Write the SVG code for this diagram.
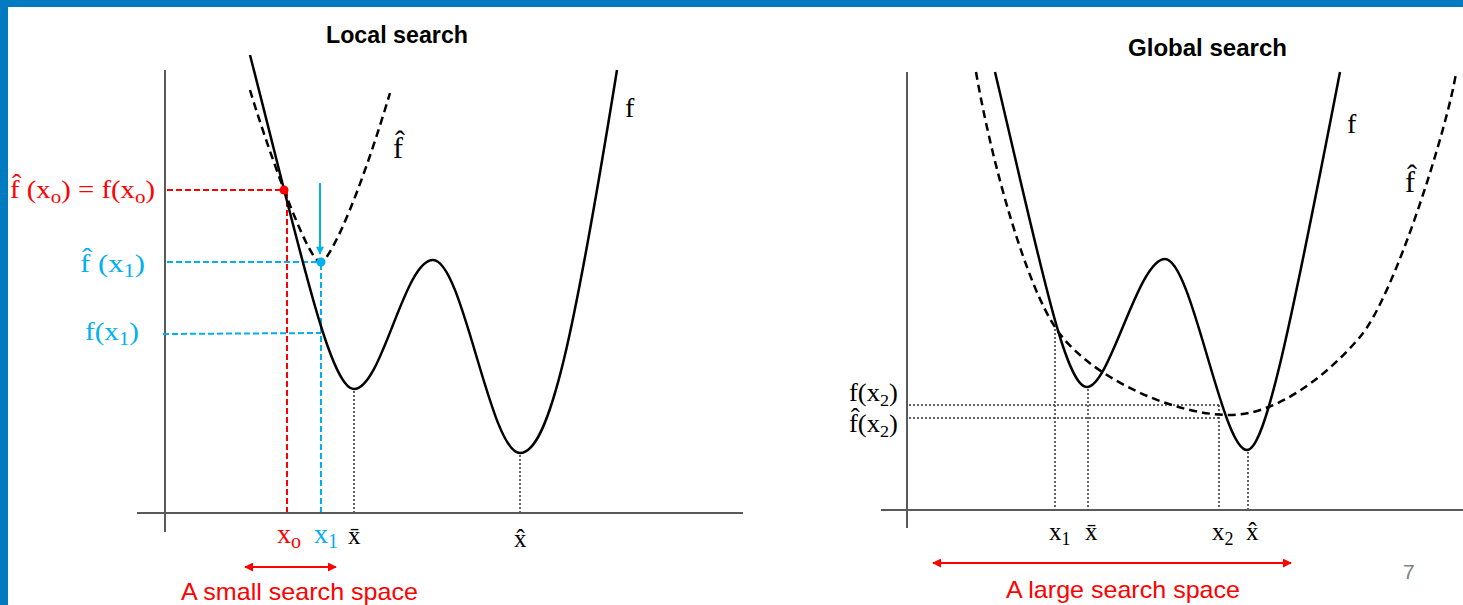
<svg xmlns="http://www.w3.org/2000/svg" width="1463" height="605" viewBox="0 0 1463 605">
<defs>
<style>
.axis{stroke:#5a5a5a;stroke-width:2;fill:none}
.f{stroke:#000;stroke-width:2.5;fill:none}
.fh{stroke:#000;stroke-width:2.5;fill:none;stroke-dasharray:8,5}
.dot{stroke:#333;stroke-width:1.5;fill:none;stroke-dasharray:2,2}
.rdash{stroke:#ff0000;stroke-width:2;fill:none;stroke-dasharray:6,3}
.bdash{stroke:#00b0f0;stroke-width:2;fill:none;stroke-dasharray:6,3}
.math{font-family:"Liberation Serif","DejaVu Serif",serif}
.title{font-family:"Liberation Sans",Arial,sans-serif;font-weight:bold;font-size:23px;fill:#000}
.cap{font-family:"Liberation Sans",Arial,sans-serif;font-size:24px;fill:#ff0000}
.red{fill:#ff0000}
.blue{fill:#00b0f0}
</style>
<marker id="rh" viewBox="0 0 10 10" refX="9" refY="5" markerWidth="4.5" markerHeight="4.5" orient="auto-start-reverse" markerUnits="strokeWidth">
<path d="M0,0 L10,5 L0,10 z" fill="#ff0000"/>
</marker>
<marker id="bh" viewBox="0 0 10 10" refX="9" refY="5" markerWidth="5" markerHeight="4" orient="auto" markerUnits="strokeWidth">
<path d="M0,0 L10,5 L0,10 z" fill="#00b0f0"/>
</marker>
</defs>
<rect x="0" y="0" width="1463" height="605" fill="#fff"/>
<g id="frame">
<rect x="0" y="0" width="1463" height="7" fill="#007ac0"/>
<rect x="0" y="0" width="8" height="605" fill="#007ac0"/>
</g>

<g id="local">
<text class="title" x="326" y="43" textLength="142" lengthAdjust="spacingAndGlyphs">Local search</text>
<g id="local-axes">
<line class="axis" x1="137" y1="513" x2="743" y2="513"/>
<line class="axis" x1="165" y1="70" x2="165" y2="532"/>
</g>
<g id="local-connectors">
<line class="rdash" x1="167" y1="190" x2="284" y2="190"/>
<line class="rdash" x1="287" y1="192" x2="287" y2="512"/>
<line class="bdash" x1="167" y1="262" x2="320" y2="262"/>
<line class="bdash" x1="321" y1="264" x2="321" y2="512"/>
<line class="bdash" x1="163" y1="334" x2="321" y2="333"/>
<line class="dot" x1="354" y1="391" x2="354" y2="512"/>
<line class="dot" x1="520" y1="455" x2="520" y2="512"/>
<line x1="320" y1="183" x2="320" y2="254" stroke="#00b0f0" stroke-width="2" marker-end="url(#bh)"/>
<line x1="245" y1="567" x2="336" y2="567" stroke="#ff0000" stroke-width="2" marker-start="url(#rh)" marker-end="url(#rh)"/>
</g>
<g id="local-f">
<path class="f" d="M250,55 C300,250 330,389 354,389 C382,389 404,260 433,260 C463,260 490,453 520,453 C550,453 575,330 617,70"/>
<text class="math" x="625" y="117" font-size="28">f</text>
</g>
<g id="local-fhat">
<path class="fh" d="M250,90 C265,140 300,240 316,259 Q321,264 326,258 C345,230 370,160 390,93"/>
<text class="math" x="393" y="158" font-size="30">f&#770;</text>
</g>
<circle cx="284" cy="190" r="4.5" fill="#ff0000"/>
<circle cx="321" cy="262" r="4.5" fill="#00b0f0"/>
<g id="local-labels" class="math">
<text class="red" x="155" y="198" font-size="26" text-anchor="end" textLength="145" lengthAdjust="spacingAndGlyphs">f&#770; (x<tspan font-size="19" dy="5">o</tspan><tspan dy="-5">) = f(x</tspan><tspan font-size="19" dy="5">o</tspan><tspan dy="-5">)</tspan></text>
<text class="blue" x="145" y="272" font-size="26" text-anchor="end" textLength="65" lengthAdjust="spacingAndGlyphs">f&#770; (x<tspan font-size="19" dy="5">1</tspan><tspan dy="-5">)</tspan></text>
<text class="blue" x="139" y="340" font-size="26" text-anchor="end" textLength="54" lengthAdjust="spacingAndGlyphs">f(x<tspan font-size="19" dy="5">1</tspan><tspan dy="-5">)</tspan></text>
<text class="red" x="277" y="543" font-size="28">x<tspan font-size="20" dy="5">o</tspan></text>
<text class="blue" x="314" y="543" font-size="28">x<tspan font-size="20" dy="5">1</tspan></text>
<text x="348" y="544" font-size="25">x&#772;</text>
<text x="514" y="547" font-size="25">x&#770;</text>
</g>
<text class="cap" x="181" y="600" textLength="237" lengthAdjust="spacingAndGlyphs">A small search space</text>
</g>

<g id="global">
<text class="title" x="1128" y="56" textLength="159" lengthAdjust="spacingAndGlyphs">Global search</text>
<g id="global-axes">
<line class="axis" x1="881" y1="510" x2="1463" y2="510"/>
<line class="axis" x1="907" y1="72" x2="907" y2="528"/>
</g>
<g id="global-connectors">
<line class="dot" x1="909" y1="405" x2="1219" y2="405"/>
<line class="dot" x1="909" y1="418" x2="1219" y2="418"/>
<line class="dot" x1="1055" y1="329" x2="1055" y2="509"/>
<line class="dot" x1="1088" y1="389" x2="1088" y2="509"/>
<line class="dot" x1="1219" y1="405" x2="1219" y2="509"/>
<line class="dot" x1="1248" y1="452" x2="1248" y2="509"/>
<line x1="933" y1="563" x2="1291" y2="563" stroke="#ff0000" stroke-width="2" marker-start="url(#rh)" marker-end="url(#rh)"/>
</g>
<g id="global-f">
<path class="f" d="M995,72 C1040,262 1065,387 1087,387 C1110,387 1138,259 1165,259 C1192,259 1222,450 1247,450 C1265,450 1290,330 1340,72"/>
<text class="math" x="1347" y="133" font-size="28">f</text>
</g>
<g id="global-fhat">
<path class="fh" d="M976,72 C993,170 1027,285 1055,327 C1085,374 1170,415 1230,415 C1275,415 1325,378 1360,337 C1395,296 1448,125 1456,73"/>
<text class="math" x="1405" y="192" font-size="30">f&#770;</text>
</g>
<g id="global-labels" class="math">
<text x="849" y="401" font-size="25" textLength="49" lengthAdjust="spacingAndGlyphs">f(x<tspan font-size="17" dy="5">2</tspan><tspan dy="-5">)</tspan></text>
<text x="849" y="432" font-size="25" textLength="49" lengthAdjust="spacingAndGlyphs">f&#770;(x<tspan font-size="17" dy="5">2</tspan><tspan dy="-5">)</tspan></text>
<text x="1049" y="540" font-size="25">x<tspan font-size="18" dy="5">1</tspan></text>
<text x="1085" y="540" font-size="25">x&#772;</text>
<text x="1212" y="540" font-size="25">x<tspan font-size="18" dy="5">2</tspan></text>
<text x="1246" y="540" font-size="25">x&#770;</text>
</g>
<text class="cap" x="1006" y="598" textLength="234" lengthAdjust="spacingAndGlyphs">A large search space</text>
</g>
<text x="1403" y="579" font-family="Liberation Sans,Arial,sans-serif" font-size="21" fill="#808080">7</text>
</svg>
